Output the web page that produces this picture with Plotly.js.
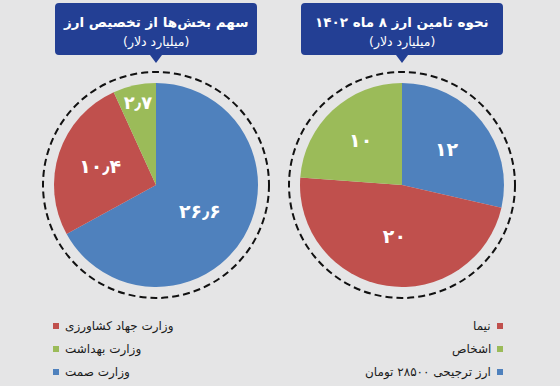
<!DOCTYPE html>
<html>
<head>
<meta charset="utf-8">
<script src="https://cdn.plot.ly/plotly-3.0.1.min.js"></script>
<style>html,body{margin:0;padding:0;background:#E5E5E6;}#chart{width:560px;height:386px;}</style>
</head>
<body>
<div id="chart"></div>
<script>
// ---- data ----
const leftTitle = 'سهم بخش‌ها از تخصیص ارز';
const rightTitle = 'نحوه تامین ارز ۸ ماه ۱۴۰۲';
const unitLabel = '(میلیارد دلار)';

const leftCategories = ['وزارت صمت', 'وزارت جهاد کشاورزی', 'وزارت بهداشت'];
const leftValues = [26.6, 10.4, 2.7];

const rightCategories = ['ارز ترجیحی ۲۸۵۰۰ تومان', 'نیما', 'اشخاص'];
const rightValues = [12, 20, 10];

const sliceColors = ['#4F81BD', '#C0504D', '#9BBB59'];
const legendOrder = [1, 2, 0];

// ---- helpers ----
const W = 560, H = 386;
const px = x => x / W;
const py = y => 1 - y / H;
const FA = '۰۱۲۳۴۵۶۷۸۹';
const fa = n => String(n).replace('.', '٫').replace(/\d/g, d => FA[d]);
const FONT = 'DejaVu Sans, Noto Sans, sans-serif';

function pieTrace(labels, values, cx, cy, r) {
  return {
    type: 'pie', labels: labels, values: values, sort: false,
    direction: 'clockwise', rotation: 0,
    text: values.map(fa), textinfo: 'text', texttemplate: '%{text}',
    textposition: 'inside', insidetextorientation: 'horizontal',
    textfont: {family: FONT, size: 19, color: '#ffffff', weight: 'bold'},
    marker: {colors: sliceColors, line: {width: 0}},
    hoverinfo: 'none', showlegend: false,
    domain: {x: [px(cx - r), px(cx + r)], y: [py(cy + r), py(cy - r)]}
  };
}

function boxPath(x0, y0, x1, y1, rad, tipX, tipY) {
  const p = (x, y) => px(x) + ',' + py(y);
  return 'M' + p(x0 + rad, y0) + ' L' + p(x1 - rad, y0) + ' Q' + p(x1, y0) + ' ' + p(x1, y0 + rad) +
    ' L' + p(x1, y1 - rad) + ' Q' + p(x1, y1) + ' ' + p(x1 - rad, y1) +
    ' L' + p(tipX + 6, y1) + ' L' + p(tipX, tipY) + ' L' + p(tipX - 6, y1) +
    ' L' + p(x0 + rad, y1) + ' Q' + p(x0, y1) + ' ' + p(x0, y1 - rad) +
    ' L' + p(x0, y0 + rad) + ' Q' + p(x0, y0) + ' ' + p(x0 + rad, y0) + ' Z';
}

const L = {cx: 156, cy: 185, r: 102};
const R = {cx: 402, cy: 185, r: 102};

const data = [
  pieTrace(leftCategories, leftValues, L.cx, L.cy, L.r),
  pieTrace(rightCategories, rightValues, R.cx, R.cy, R.r)
];

const shapes = [];
const annotations = [];

[[L, leftTitle], [R, rightTitle]].forEach(([c, t]) => {
  shapes.push({type: 'circle', xref: 'paper', yref: 'paper', layer: 'below',
    x0: px(c.cx - 113), x1: px(c.cx + 113), y0: py(c.cy + 113), y1: py(c.cy - 113),
    line: {color: '#111111', width: 2, dash: '7px,4px'}});
  shapes.push({type: 'path', xref: 'paper', yref: 'paper',
    path: boxPath(c.cx - 101, 3, c.cx + 101, 55, 4, c.cx, 63),
    fillcolor: '#233F94', line: {width: 0}});
  annotations.push({xref: 'paper', yref: 'paper', x: px(c.cx), y: py(22), text: '<b>' + t + '</b>',
    showarrow: false, xanchor: 'center', yanchor: 'middle',
    font: {family: FONT, size: 13.5, color: '#ffffff'}});
  annotations.push({xref: 'paper', yref: 'paper', x: px(c.cx), y: py(42), text: unitLabel,
    showarrow: false, xanchor: 'center', yanchor: 'middle',
    font: {family: FONT, size: 12.5, color: '#ffffff'}});
});

const rowsY = [326, 349, 372];
legendOrder.forEach((idx, k) => {
  const y = rowsY[k];
  // left legend: marker then text
  shapes.push({type: 'rect', xref: 'paper', yref: 'paper',
    x0: px(53), x1: px(59), y0: py(y + 3), y1: py(y - 3),
    fillcolor: sliceColors[idx], line: {width: 0}});
  annotations.push({xref: 'paper', yref: 'paper', x: px(63), y: py(y), text: leftCategories[idx],
    showarrow: false, xanchor: 'left', yanchor: 'middle',
    font: {family: FONT, size: 12, color: '#1a1a1a'}});
  // right legend: text then marker
  shapes.push({type: 'rect', xref: 'paper', yref: 'paper',
    x0: px(497), x1: px(503), y0: py(y + 3), y1: py(y - 3),
    fillcolor: sliceColors[idx], line: {width: 0}});
  annotations.push({xref: 'paper', yref: 'paper', x: px(493), y: py(y), text: rightCategories[idx],
    showarrow: false, xanchor: 'right', yanchor: 'middle',
    font: {family: FONT, size: 12, color: '#1a1a1a'}});
});

const layout = {
  width: W, height: H, margin: {l: 0, r: 0, t: 0, b: 0},
  paper_bgcolor: '#E5E5E6', plot_bgcolor: '#E5E5E6',
  showlegend: false, shapes: shapes, annotations: annotations,
  font: {family: FONT}
};

Plotly.newPlot('chart', data, layout, {staticPlot: true, displayModeBar: false});
</script>
</body>
</html>
